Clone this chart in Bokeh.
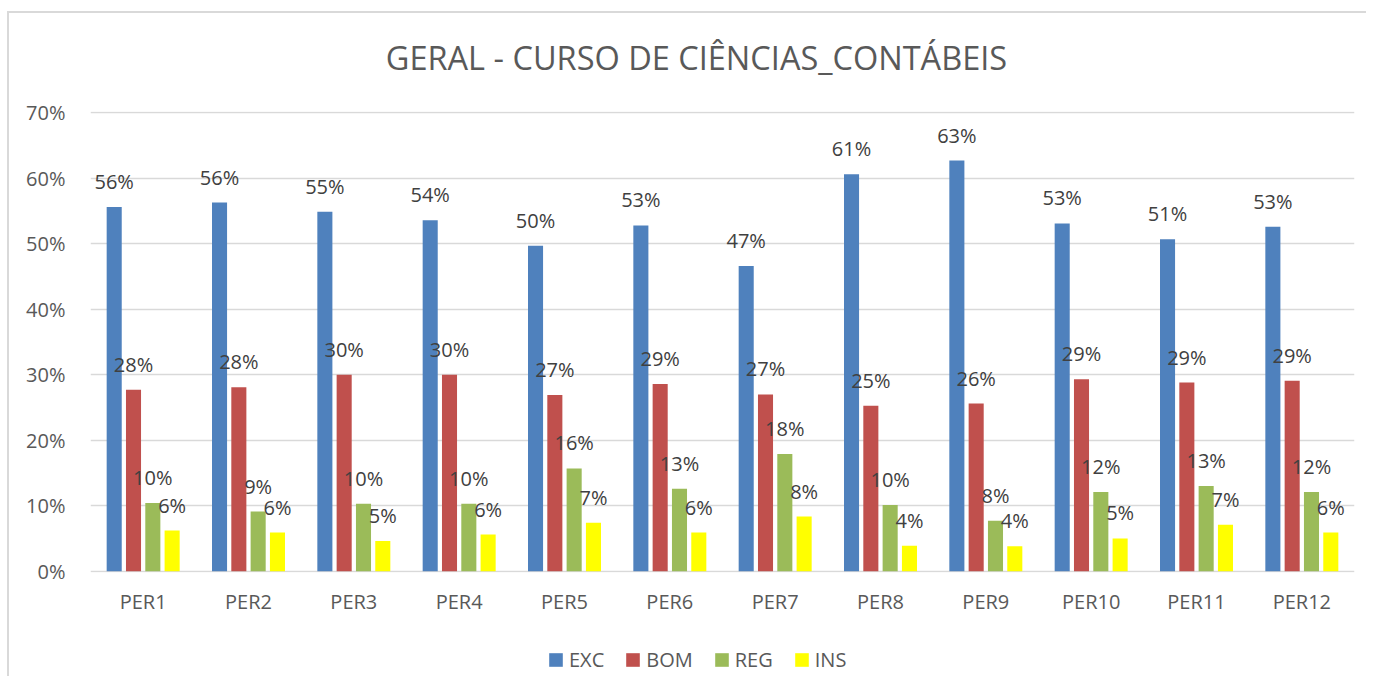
from bokeh.plotting import figure
from bokeh.models import (ColumnDataSource, FactorRange, Range1d, FixedTicker,
                          NumeralTickFormatter, LabelSet, Label, Legend, LegendItem)
from bokeh.layouts import column
from bokeh.core.properties import value
from bokeh.transform import dodge
from bokeh.embed import file_html
from bokeh.resources import INLINE

periods = ["PER1", "PER2", "PER3", "PER4", "PER5", "PER6",
           "PER7", "PER8", "PER9", "PER10", "PER11", "PER12"]
exc = [0.556, 0.563, 0.549, 0.536, 0.497, 0.528, 0.466, 0.606, 0.627, 0.531, 0.507, 0.526]
bom = [0.277, 0.281, 0.300, 0.300, 0.269, 0.286, 0.270, 0.2525, 0.256, 0.293, 0.288, 0.291]
reg = [0.104, 0.091, 0.103, 0.103, 0.157, 0.126, 0.179, 0.101, 0.077, 0.121, 0.130, 0.121]
ins = [0.062, 0.059, 0.046, 0.056, 0.074, 0.059, 0.0835, 0.039, 0.038, 0.050, 0.071, 0.059]
series_names = ["EXC", "BOM", "REG", "INS"]
series_colors = ["#4F81BD", "#C0504D", "#9BBB59", "#FFFF00"]
y_ticks = [0, 0.1, 0.2, 0.3, 0.4, 0.5, 0.6, 0.7]
title_text = "GERAL - CURSO DE CIÊNCIAS_CONTÁBEIS"

FONT = "Open Sans"

data = {"per": periods}
for name, vals in zip(series_names, [exc, bom, reg, ins]):
    data[name] = vals
    data[name + "_lbl"] = ["%d%%" % int(v * 100 + 0.5) for v in vals]
source = ColumnDataSource(data)


def strip(height):
    f = figure(width=1357, height=height, x_range=Range1d(0, 1), y_range=Range1d(0, 1),
               output_backend="svg", toolbar_location=None, min_border=0,
               x_axis_location=None, y_axis_location=None)
    f.grid.visible = False
    f.outline_line_color = None
    f.background_fill_color = "white"
    f.border_fill_color = "white"
    return f


# title strip
tf = strip(70)
tf.add_layout(Label(x=0.4794, y=0.376, text=title_text, text_align="center",
                    text_baseline="middle", text_font=FONT,
                    text_font_size="32.5px", text_color="#595959"))

# main chart
p = figure(x_range=FactorRange(*periods, range_padding=0),
           y_range=Range1d(-0.002, 0.702),
           width=1357, height=537,
           output_backend="svg", toolbar_location=None,
           min_border_left=81, min_border_right=12,
           min_border_top=28, min_border_bottom=48)
p.outline_line_color = None
p.background_fill_color = "white"
p.border_fill_color = "white"

p.xgrid.grid_line_color = None
p.ygrid.grid_line_color = "#D9D9D9"
p.ygrid.grid_line_width = 1.5

p.yaxis.ticker = FixedTicker(ticks=y_ticks)
p.yaxis.formatter = NumeralTickFormatter(format="0%")
for ax in (p.xaxis, p.yaxis):
    ax.axis_line_color = None
    ax.major_tick_line_color = None
    ax.minor_tick_line_color = None
    ax.major_tick_in = 0
    ax.major_tick_out = 0
    ax.major_label_text_font = FONT
    ax.major_label_text_font_size = "20px"
    ax.major_label_text_color = "#595959"
p.yaxis.major_label_standoff = 25
p.xaxis.major_label_standoff = 15

offsets = [-0.275, -0.0917, 0.0917, 0.275]
for name, color, off in zip(series_names, series_colors, offsets):
    p.vbar(x=dodge("per", off, range=p.x_range), top=name, width=0.143,
           source=source, fill_color=color, line_color=None)
    lbl = LabelSet(x=dodge("per", off, range=p.x_range), y=name, text=name + "_lbl",
                   source=source, text_align="center", text_baseline="alphabetic",
                   y_offset=18, text_font=value(FONT), text_font_size=value("20px"),
                   text_color="#404040")
    p.add_layout(lbl)

# legend strip below the chart
lf = strip(56)
items = []
for name, color in zip(series_names, series_colors):
    r = lf.vbar(x=[0.5], top=[0.0], width=0.1, fill_color=color, line_color=None)
    items.append(LegendItem(label=name, renderers=[r]))
legend = Legend(items=items, orientation="horizontal", location=(457, 3),
                glyph_width=17, glyph_height=17, label_standoff=5, spacing=20,
                padding=0, margin=0, border_line_color=None,
                background_fill_alpha=0,
                label_text_font=FONT, label_text_font_size="20px",
                label_text_color="#595959")
lf.add_layout(legend, "center")

layout = column(tf, p, lf, spacing=0)
layout.styles = {"margin-top": "11px", "margin-left": "7px",
                 "border-top": "2px solid #D9D9D9", "border-left": "2px solid #D9D9D9"}

open("out.html", "w").write(file_html(layout, INLINE))
